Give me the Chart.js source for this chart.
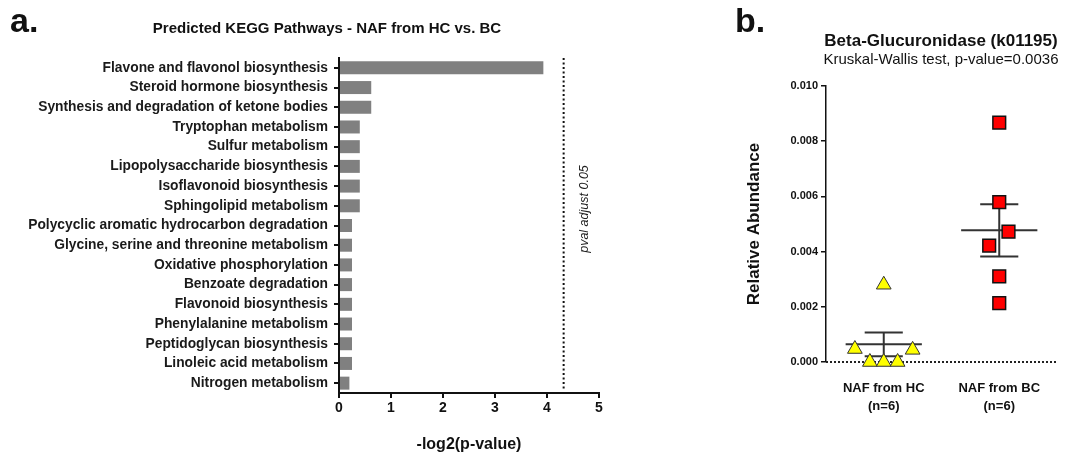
<!DOCTYPE html>
<html>
<head>
<meta charset="utf-8">
<script src="https://cdn.jsdelivr.net/npm/chart.js@4.4.1/dist/chart.umd.min.js"></script>
<style>
  body { margin: 0; background: #fff; }
  #wrap { position: relative; width: 1075px; height: 454px; font-family: 'Liberation Sans', Arial, sans-serif; color: #111; }
  .txt { position: absolute; line-height: 1; white-space: nowrap; }
  .ctr { transform: translateX(-50%); }
  #leftBox { position: absolute; left: 0; top: 0; width: 640px; height: 454px; }
  #rightBox { position: absolute; left: 740px; top: 0; width: 335px; height: 454px; }
</style>
</head>
<body>
<div id="wrap">
  <div id="leftBox"><canvas id="keggChart"></canvas></div>
  <div id="rightBox"><canvas id="glucChart"></canvas></div>
  <div class="txt" style="left:10px; top:3px; font-size:34px; font-weight:bold;">a.</div>
  <div class="txt" style="left:735px; top:3px; font-size:34px; font-weight:bold;">b.</div>
  <div class="txt ctr" style="left:327px; top:20px; font-size:15px; font-weight:bold;">Predicted KEGG Pathways - NAF from HC vs. BC</div>
  <div class="txt ctr" style="left:941px; top:32px; font-size:17px; font-weight:bold;">Beta-Glucuronidase (k01195)</div>
  <div class="txt ctr" style="left:941px; top:51px; font-size:15px;">Kruskal-Wallis test, p-value=0.0036</div>
</div>

<script>
  // ---- panel a data ----
  const pathways = [
    'Flavone and flavonol biosynthesis',
    'Steroid hormone biosynthesis',
    'Synthesis and degradation of ketone bodies',
    'Tryptophan metabolism',
    'Sulfur metabolism',
    'Lipopolysaccharide biosynthesis',
    'Isoflavonoid biosynthesis',
    'Sphingolipid metabolism',
    'Polycyclic aromatic hydrocarbon degradation',
    'Glycine, serine and threonine metabolism',
    'Oxidative phosphorylation',
    'Benzoate degradation',
    'Flavonoid biosynthesis',
    'Phenylalanine metabolism',
    'Peptidoglycan biosynthesis',
    'Linoleic acid metabolism',
    'Nitrogen metabolism'
  ];
  const negLog2P = [3.93, 0.62, 0.62, 0.40, 0.40, 0.40, 0.40, 0.40, 0.25, 0.25, 0.25, 0.25, 0.25, 0.25, 0.25, 0.25, 0.20];
  const pvalCutoff = 4.32; // -log2(0.05)
  const cutoffLabel = 'pval adjust 0.05';

  // ---- panel b data ----
  const groupLabels = [['NAF from HC', '(n=6)'], ['NAF from BC', '(n=6)']];
  const hcValues = [0.00047, 0, 0, 0, 0.00044, 0.0028];
  const hcJitter = [-0.25, -0.12, 0, 0.12, 0.25, 0];
  const bcValues = [0.00867, 0.00579, 0.00472, 0.00422, 0.0031, 0.00213];
  const bcJitter = [0, 0, 0.08, -0.087, 0, 0];
  const groupMeans = [0.00064, 0.00477];
  const groupSems = [0.00043, 0.00095];
  const yTicks = [0, 0.002, 0.004, 0.006, 0.008, 0.010];

  const FONT = "'Liberation Sans', Arial, sans-serif";

  // dotted cutoff line + rotated label
  const cutoffPlugin = {
    id: 'cutoff',
    afterDatasetsDraw(chart) {
      const { ctx, chartArea, scales } = chart;
      const x = scales.x.getPixelForValue(pvalCutoff);
      ctx.save();
      ctx.strokeStyle = '#111';
      ctx.lineWidth = 2;
      ctx.setLineDash([2, 2.5]);
      ctx.beginPath();
      ctx.moveTo(x, chartArea.top);
      ctx.lineTo(x, chartArea.bottom - 3);
      ctx.stroke();
      ctx.setLineDash([]);
      ctx.translate(x + 21, 209);
      ctx.rotate(-Math.PI / 2);
      ctx.font = "italic 12.5px " + FONT;
      ctx.fillStyle = '#222';
      ctx.textAlign = 'center';
      ctx.textBaseline = 'middle';
      ctx.fillText(cutoffLabel, 0, 0);
      ctx.restore();
    }
  };

  new Chart(document.getElementById('keggChart'), {
    type: 'bar',
    data: {
      labels: pathways,
      datasets: [{
        data: negLog2P,
        backgroundColor: '#808080',
        categoryPercentage: 1,
        barPercentage: 0.66
      }]
    },
    options: {
      indexAxis: 'y',
      responsive: true,
      maintainAspectRatio: false,
      animation: false,
      layout: { padding: { top: 58, right: 41, bottom: 0, left: 0 } },
      plugins: { legend: { display: false }, tooltip: { enabled: false } },
      scales: {
        x: {
          min: 0, max: 5,
          ticks: { stepSize: 1, color: '#111', font: { family: FONT, size: 14, weight: 'bold' }, padding: 2 },
          grid: { drawOnChartArea: false, tickLength: 5, color: '#111', lineWidth: 2 },
          border: { color: '#111', width: 2 },
          title: { display: true, text: '-log2(p-value)', color: '#111', font: { family: FONT, size: 16, weight: 'bold' }, padding: { top: 0, bottom: 0 } },
          afterFit(scale) { scale.height = 61; }
        },
        y: {
          ticks: { color: '#1a1a1a', font: { family: FONT, size: 13.8, weight: 'bold' }, padding: 6, autoSkip: false },
          grid: { offset: false, drawOnChartArea: false, tickLength: 5, color: '#111', lineWidth: 2 },
          border: { color: '#111', width: 2 },
          afterFit(scale) { scale.width = 339; }
        }
      }
    },
    plugins: [cutoffPlugin]
  });

  // ---- panel b ----
  // dotted baseline at y = 0
  const baselinePlugin = {
    id: 'baseline',
    beforeDatasetsDraw(chart) {
      const { ctx, chartArea, scales } = chart;
      const y = scales.y.getPixelForValue(0);
      ctx.save();
      ctx.strokeStyle = '#222';
      ctx.lineWidth = 2;
      ctx.setLineDash([2, 2]);
      ctx.beginPath();
      ctx.moveTo(chartArea.left, y);
      ctx.lineTo(chartArea.right, y);
      ctx.stroke();
      ctx.restore();
    }
  };

  const errColor = '#333';
  function seg(x1, y1, x2, y2) {
    return {
      type: 'line',
      data: [{ x: x1, y: y1 }, { x: x2, y: y2 }],
      borderColor: errColor,
      borderWidth: 2,
      pointRadius: 0,
      showLine: true,
      fill: false
    };
  }
  const barSets = [];
  groupMeans.forEach((m, g) => {
    const s = groupSems[g];
    barSets.push(seg(g - 0.33, m, g + 0.33, m));
    barSets.push(seg(g, m - s, g, m + s));
    barSets.push(seg(g - 0.165, m + s, g + 0.165, m + s));
    barSets.push(seg(g - 0.165, m - s, g + 0.165, m - s));
  });

  new Chart(document.getElementById('glucChart'), {
    type: 'scatter',
    data: {
      datasets: [
        {
          data: hcValues.map((v, i) => ({ x: 0 + hcJitter[i], y: v })),
          pointStyle: 'triangle',
          pointRadius: 8.5,
          backgroundColor: '#ffff00',
          borderColor: '#333',
          borderWidth: 1
        },
        {
          data: bcValues.map((v, i) => ({ x: 1 + bcJitter[i], y: v })),
          pointStyle: 'rect',
          pointRadius: 9,
          backgroundColor: '#ff0000',
          borderColor: '#111',
          borderWidth: 1.5
        },
        ...barSets
      ]
    },
    options: {
      responsive: true,
      maintainAspectRatio: false,
      animation: false,
      clip: false,
      layout: { padding: { top: 86, right: 18, bottom: 0, left: 0 } },
      plugins: { legend: { display: false }, tooltip: { enabled: false } },
      scales: {
        x: {
          type: 'linear',
          min: -0.5, max: 1.5,
          afterBuildTicks(scale) { scale.ticks = groupLabels.map((_, i) => ({ value: i })); },
          ticks: {
            autoSkip: false, maxRotation: 0, padding: 17, color: '#111',
            font: { family: FONT, size: 13, weight: 'bold', lineHeight: 1.4 },
            callback: (v) => groupLabels[v]
          },
          grid: { display: false, drawTicks: false },
          border: { display: false },
          afterFit(scale) { scale.height = 92; }
        },
        y: {
          min: 0, max: 0.01,
          afterBuildTicks(scale) { scale.ticks = yTicks.map(v => ({ value: v })); },
          ticks: {
            color: '#111', padding: 3,
            font: { family: FONT, size: 11, weight: 'bold' },
            callback: (v) => v.toFixed(3)
          },
          grid: { drawOnChartArea: false, tickLength: 5, color: '#111', lineWidth: 1.5 },
          border: { color: '#111', width: 1.5 },
          title: { display: true, text: 'Relative Abundance', color: '#111', font: { family: FONT, size: 17, weight: 'bold' }, padding: { top: 4, bottom: 0 } },
          afterFit(scale) { scale.width = 86; }
        }
      }
    },
    plugins: [baselinePlugin]
  });
</script>
</body>
</html>
